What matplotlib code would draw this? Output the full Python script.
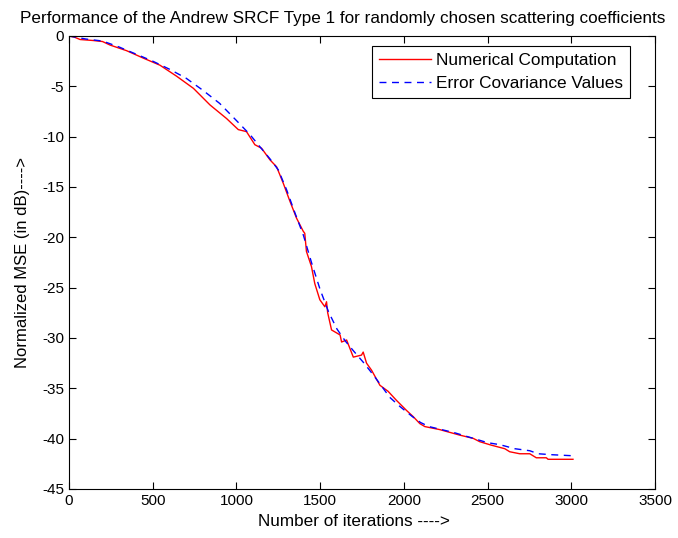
import matplotlib.pyplot as plt
import numpy as np

plt.rcParams['font.family'] = ['Liberation Sans', 'DejaVu Sans']
plt.rcParams['axes.unicode_minus'] = False

# numerical computation (red, solid)
num_iter = [0, 30, 66, 145, 200, 245, 344, 444, 543, 643, 743, 842, 941, 1011,
            1060, 1110, 1150, 1200, 1240, 1279, 1319, 1359, 1399, 1408, 1418,
            1448, 1468, 1498, 1528, 1538, 1545, 1568, 1619, 1628, 1658, 1698,
            1747, 1757, 1777, 1807, 1857, 1906, 1956, 2016, 2055, 2095, 2125,
            2214, 2334, 2414, 2453, 2523, 2603, 2632, 2692, 2752, 2791, 2851,
            2861, 3010]
num_mse = [0, -0.1, -0.35, -0.45, -0.55, -0.9, -1.46, -2.2, -2.9, -4.0, -5.2,
           -6.85, -8.2, -9.3, -9.5, -10.8, -11.15, -12.3, -13.0, -14.6, -16.4,
           -18.1, -19.4, -19.6, -21.4, -22.9, -24.6, -26.2, -26.9, -26.4, -27.5,
           -29.2, -29.7, -30.4, -30.2, -31.9, -31.7, -31.4, -32.5, -33.2, -34.7,
           -35.3, -36.2, -37.2, -37.8, -38.5, -38.8, -39.1, -39.65, -39.97,
           -40.3, -40.65, -41.0, -41.3, -41.5, -41.5, -41.9, -41.9, -42.05,
           -42.05]

# error covariance values (blue, dashed)
cov_iter = [0, 100, 200, 300, 400, 500, 600, 700, 800, 900, 1000, 1081, 1140,
            1200, 1250, 1300, 1350, 1400, 1450, 1500, 1550, 1600, 1650, 1700,
            1757, 1800, 1850, 1916, 1976, 2050, 2100, 2150, 2200, 2300, 2400,
            2500, 2574, 2663, 2752, 2801, 2889, 3010]
cov_mse = [0, -0.3, -0.5, -1.1, -1.8, -2.5, -3.3, -4.2, -5.4, -6.7, -8.4, -9.8,
           -11.0, -12.2, -13.3, -15.3, -17.6, -19.8, -22.6, -25.2, -27.4, -29.1,
           -30.3, -31.3, -32.4, -33.3, -34.4, -35.9, -36.8, -37.8, -38.4, -38.8,
           -39.0, -39.4, -39.9, -40.4, -40.6, -41.0, -41.2, -41.5, -41.6, -41.7]

fig = plt.figure(figsize=(6.78, 5.38), dpi=100)
ax = fig.add_axes([0.1018, 0.0911, 0.8643, 0.8420])

ax.plot(num_iter, num_mse, color='red', lw=1.0, label='Numerical Computation')
ax.plot(cov_iter, cov_mse, color='blue', lw=1.0, linestyle=(0, (5, 4)),
        label='Error Covariance Values')

ax.set_xlim(0, 3500)
ax.set_ylim(-45, 0)
ax.set_xticks(np.arange(0, 3501, 500))
ax.set_yticks(np.arange(-45, 1, 5))
ax.tick_params(direction='in', top=True, right=True, labelsize=11, length=5)

# title sits a bit left of the axes centre in the original
fig.text(0.506, 0.958, 'Performance of the Andrew SRCF Type 1 for randomly chosen scattering coefficients',
         ha='center', va='baseline', fontsize=12.3)
ax.set_xlabel('Number of iterations ---->', fontsize=12.3)
ax.xaxis.set_label_coords(0.486, -0.056)
ax.set_ylabel('Normalized MSE (in dB)---->', fontsize=12)
ax.yaxis.set_label_coords(-0.067, 0.5)

leg = ax.legend(loc='upper right', bbox_to_anchor=(0.957, 0.978), borderaxespad=0,
                fontsize=12.4, fancybox=False, framealpha=1, edgecolor='black',
                handlelength=3, handletextpad=0.3, labelspacing=0.45)
leg.get_frame().set_linewidth(0.8)

fig.savefig('out.png', dpi=100)
